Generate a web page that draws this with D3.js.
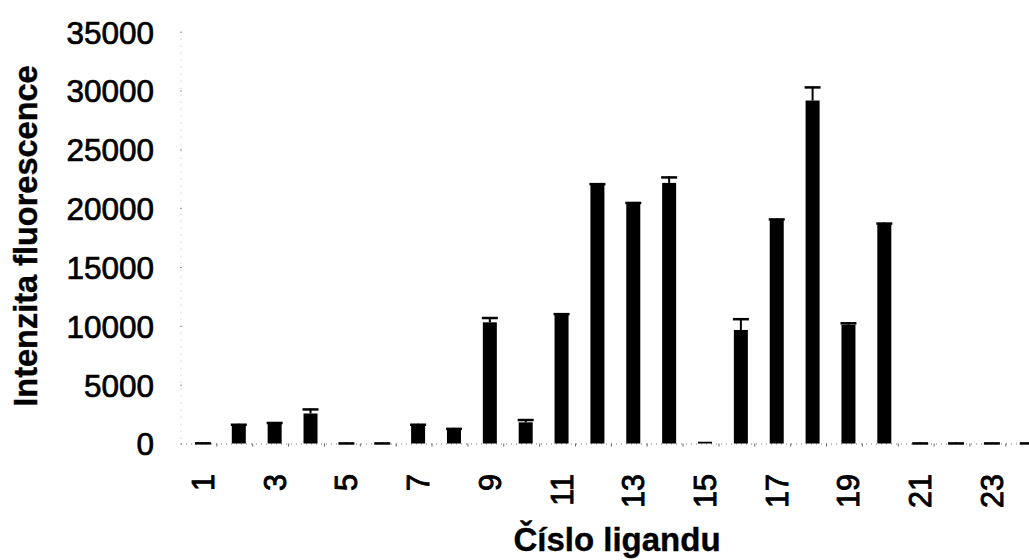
<!DOCTYPE html>
<html><head><meta charset="utf-8">
<script src="https://cdn.jsdelivr.net/npm/d3@7"></script>
<style>body{margin:0;background:#fff}svg{display:block}</style>
</head><body>
<svg id="c" width="1029" height="560"></svg>
<script>
const categories = ["1","2","3","4","5","6","7","8","9","10","11","12","13","14","15","16","17","18","19","20","21","22","23","24"];
const values = [50,1600,1750,2550,50,50,1600,1250,10300,1800,11000,22050,20450,22150,150,9650,19050,29150,10100,18700,50,50,50,50];
const errors = [50,80,80,430,40,40,80,80,450,280,80,80,80,550,0,1000,80,1200,200,80,40,40,40,40];
const yTicks = [0,5000,10000,15000,20000,25000,30000,35000];
const xTickLabels = ["1","3","5","7","9","11","13","15","17","19","21","23"];
const yTitle = "Intenzita fluorescence";
const xTitle = "Číslo ligandu";

const svg = d3.select("#c");
const x = d3.scaleBand().domain(categories).range([185, 1045.7]).paddingInner(0).paddingOuter(0);
const y = d3.scaleLinear().domain([0,35000]).range([443.5, 31.7]);
const bw = 14, cw = 16;
const font = "'Liberation Sans', Arial, sans-serif";

// y axis (faint dotted) with ticks
svg.append("line").attr("x1",181).attr("x2",181).attr("y1",y(35000)).attr("y2",y(0))
  .attr("stroke","#bbb").attr("stroke-width",1).attr("stroke-dasharray","1,6");
const yAxis = d3.axisLeft(y).tickValues(yTicks).tickSize(2).tickPadding(26).tickFormat(d3.format("d"));
const gy = svg.append("g").attr("transform","translate(182,0)").call(yAxis);
gy.select(".domain").remove();
gy.selectAll(".tick line").attr("stroke","#999");
gy.selectAll(".tick text").attr("font-family",font).attr("font-size",31.5).attr("fill","#000")
  .attr("stroke","#000").attr("stroke-width",0.7)
  .attr("dy","0.36em");

// x axis dotted line with small ticks
svg.append("line").attr("x1",181).attr("x2",1029).attr("y1",y(0)+0.5).attr("y2",y(0)+0.5)
  .attr("stroke","#777").attr("stroke-width",1).attr("stroke-dasharray","1,4");
svg.append("g").selectAll("line").data(categories).join("line")
  .attr("x1",d=>x(d)+x.bandwidth()-4).attr("x2",d=>x(d)+x.bandwidth()-4)
  .attr("y1",y(0)).attr("y2",y(0)+3).attr("stroke","#666").attr("stroke-width",1);

// bars
svg.append("g").selectAll("rect").data(categories).join("rect")
  .attr("x",d=>x(d)+x.bandwidth()/2-bw/2)
  .attr("width",bw)
  .attr("y",(d,i)=>y(values[i]))
  .attr("height",(d,i)=>y(0)-y(values[i]))
  .attr("fill","#000");

// error bars
const eb = svg.append("g").attr("stroke","#000");
categories.forEach((d,i)=>{
  if (errors[i] <= 0) return;
  const cx = x(d)+x.bandwidth()/2;
  const top = y(values[i]+errors[i]);
  eb.append("line").attr("x1",cx).attr("x2",cx).attr("y1",y(values[i])).attr("y2",top).attr("stroke-width",2);
  eb.append("line").attr("x1",cx-cw/2).attr("x2",cx+cw/2).attr("y1",top+1).attr("y2",top+1).attr("stroke-width",2.5);
});

// x tick labels (rotated)
svg.append("g").selectAll("text").data(xTickLabels).join("text")
  .attr("transform",d=>`translate(${x(d)+x.bandwidth()/2},474) rotate(-90)`)
  .attr("text-anchor","end").attr("dy","0.36em")
  .attr("font-family",font).attr("font-size",30.5).attr("fill","#000")
  .attr("stroke","#000").attr("stroke-width",0.9)
  .text(d=>d);

// axis titles
svg.append("text").attr("transform","translate(37,236) rotate(-90)")
  .attr("text-anchor","middle").attr("font-family",font).attr("font-weight","bold")
  .attr("font-size",32.5).attr("fill","#000").attr("stroke","#000").attr("stroke-width",0.4).text(yTitle);
svg.append("text").attr("x",617).attr("y",551)
  .attr("text-anchor","middle").attr("font-family",font).attr("font-weight","bold")
  .attr("font-size",33).attr("fill","#000").attr("stroke","#000").attr("stroke-width",0.4).text(xTitle);
</script>
</body></html>
